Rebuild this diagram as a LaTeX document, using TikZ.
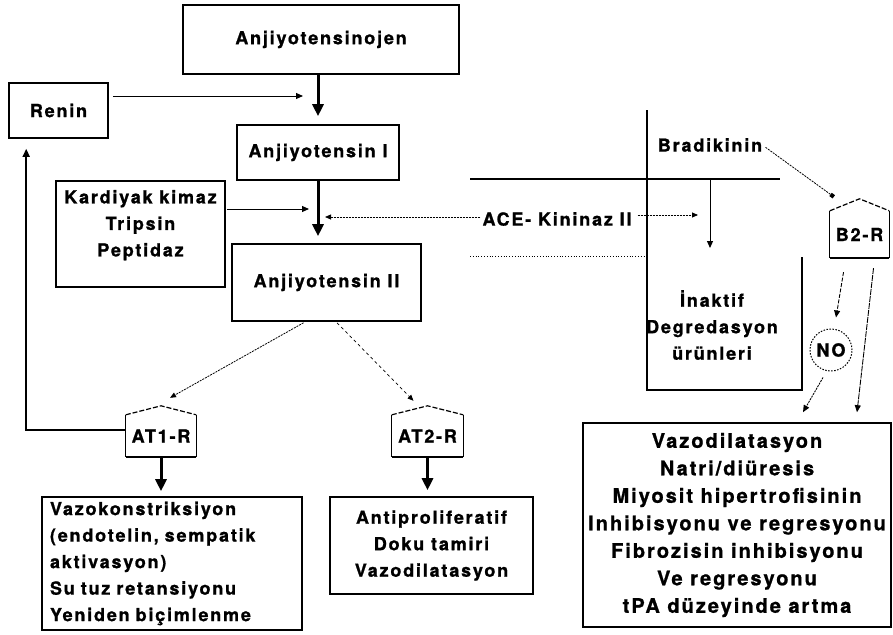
\documentclass[tikz,border=0pt]{standalone}
\usepackage{fontspec}
\setmainfont{texgyreheros-bold.otf}[LetterSpace=10, FakeBold=1]
\usetikzlibrary{arrows.meta,calc}
\begin{document}
\begin{tikzpicture}[x=1pt,y=-1pt,
  every node/.style={font=\fontsize{18}{26.5}\selectfont},
  box/.style={draw, line width=1.6pt, inner sep=0pt, align=center},
  lbl/.style={inner sep=0pt, align=center},
  bigarrow/.style={line width=3pt, -{Triangle[length=12pt,width=11pt]}},
  thinarrow/.style={line width=1pt, -{Triangle[length=7pt,width=6pt]}},
  dotarrow/.style={line width=0.8pt, dash pattern=on 2pt off 1pt, -{Triangle[length=6pt,width=5pt]}},
  sparsearrow/.style={line width=0.7pt, dash pattern=on 3pt off 3pt, -{Triangle[length=6pt,width=5pt]}},
  wall/.style={line width=1pt},
  roof/.style={line width=1.2pt, dash pattern=on 5pt off 2pt},
  frame/.style={line width=1.5pt},
]
\fill[white] (0,0) rectangle (893,634);
\useasboundingbox (0,0) rectangle (893,634);

% left chain
\node[box, minimum width=276, minimum height=69] (ajo) at (321,39.5) {Anjiyotensinojen};
\node[box, minimum width=99, minimum height=55] (ren) at (58.5,110.5) {Renin};
\node[box, minimum width=162, minimum height=55] (aj1) at (318,152.5) {Anjiyotensin I};
\node[box, minimum width=169, minimum height=106] (kar) at (140.5,234)
  {\parbox[c][88pt][t]{165pt}{\centering Kardiyak kimaz\\Tripsin\\Peptidaz}};
\node[box, minimum width=189, minimum height=77] (aj2) at (326.5,282.5) {Anjiyotensin II};

\draw[bigarrow, shorten >=8pt] (ajo.south -| aj1.north) -- (aj1.north);
\draw[bigarrow, shorten >=7pt] (aj1.south) -- (aj1.south |- aj2.north);

\coordinate (rt) at (303,96);
\draw[thinarrow, shorten <=4pt] (ren.east |- rt) -- (rt);
\coordinate (kt) at (309,209);
\draw[thinarrow, shorten <=1pt] (kar.east |- kt) -- (kt);

% ACE
\node[lbl] (ace) at (557,219) {ACE- Kininaz II};
\coordinate (acl) at (325,217);
\draw[dotarrow, shorten <=2pt] (ace.west |- acl) -- (acl);
\coordinate (acr) at (698,215);
\draw[dotarrow, shorten <=6pt] (ace.east |- acr) -- (acr);

% bradykinin region
\draw[frame] (470,179) -- (780,179);
\draw[frame] (647,110) -- (647,390) -- (802,390) -- (802,257);
\draw[line width=0.8pt, dotted] (470,256) -- (647,256);
\coordinate (dtop) at (710,179);
\coordinate (dbot) at (710,248);
\draw[thinarrow] (dtop) -- (dbot);
\node[lbl] (bra) at (710,145) {Bradikinin};
\node[lbl] (ina) at (712,325) {İnaktif\\Degredasyon\\ürünleri};

% B2-R
\node[lbl, minimum width=59, minimum height=47] (b2r) at (859.5,234.5) {B2-R};
\draw[wall] (b2r.north west) -- (b2r.south west);
\draw[line width=1.6pt] (b2r.south west) -- (b2r.south east);
\draw[wall] (b2r.south east) -- (b2r.north east);
\draw[roof] (b2r.north west) -- ($(b2r.north)+(0,-12)$) -- (b2r.north east);
\draw[line width=0.8pt, dash pattern=on 2pt off 1pt, -{Square[length=4pt,width=4pt]}, shorten <=4pt]
  (bra.east) -- ($(b2r.north west)+(4,-14)$);

\node[circle, draw, line width=1pt, dash pattern=on 1.5pt off 1.5pt, minimum size=42, inner sep=0pt] (no) at (831,350) {NO};

% results right
\node[box, minimum width=308, minimum height=204, font=\fontsize{20}{27.5}\selectfont] (r3) at (737,525)
  {Vazodilatasyon\\Natri/diüresis\\Miyosit hipertrofisinin\\Inhibisyonu ve regresyonu\\Fibrozisin inhibisyonu\\Ve regresyonu\\tPA düzeyinde artma};

\draw[line width=0.9pt, dash pattern=on 4pt off 1.5pt, -{Triangle[length=7pt,width=6pt]}]
  ($(b2r.south)+(-16,14)$) -- ($(no.north)+(5,-11)$);
\draw[line width=0.9pt, dash pattern=on 6pt off 1pt, -{Triangle[length=7pt,width=6pt]}]
  ($(b2r.south)+(14,10)$) -- ($(r3.north)+(120,-10)$);
\draw[line width=0.9pt, dash pattern=on 2pt off 1pt, -{Triangle[length=7pt,width=6pt]}]
  ($(no.south)+(-8,6)$) -- ($(r3.north)+(66,-10)$);

% receptors
\node[lbl, minimum width=70, minimum height=42] (at1) at (161,436) {AT1-R};
\draw[wall] (at1.north west) -- (at1.south west);
\draw[line width=1.6pt] (at1.south west) -- (at1.south east);
\draw[wall] (at1.south east) -- (at1.north east);
\draw[roof] (at1.north west) -- ($(at1.north)+(0,-9)$) -- (at1.north east);

\node[lbl, minimum width=71, minimum height=42] (at2) at (427.5,436) {AT2-R};
\draw[wall] (at2.north west) -- (at2.south west);
\draw[line width=1.6pt] (at2.south west) -- (at2.south east);
\draw[wall] (at2.south east) -- (at2.north east);
\draw[roof] (at2.north west) -- ($(at2.north)+(0,-9)$) -- (at2.north east);

\draw[dotarrow] ($(aj2.south)+(-23,1)$) -- ($(at1.north)+(9,-17)$);
\draw[sparsearrow] ($(aj2.south)+(10.5,1)$) -- ($(at2.north)+(-14,-14)$);

% feedback to renin
\draw[line width=1.6pt, -{Triangle[length=8pt,width=7pt]}, shorten >=10pt]
  ($(at1.west)+(0,-6)$) -| ($(ren.south west)+(18,0)$);

% results left
\node[box, minimum width=260, minimum height=133, align=left, text width=244] (r1) at (172,563.5)
  {Vazokonstriksiyon\\(endotelin, sempatik\\aktivasyon)\\Su tuz retansiyonu\\Yeniden biçimlenme};
\node[box, minimum width=203, minimum height=97] (r2) at (431.5,545.5)
  {Antiproliferatif\\Doku tamiri\\Vazodilatasyon};

\draw[bigarrow, shorten >=5pt] (at1.south) -- (at1.south |- r1.north);
\draw[bigarrow, shorten >=6pt] (at2.south) -- (at2.south |- r2.north);
\end{tikzpicture}
\end{document}
